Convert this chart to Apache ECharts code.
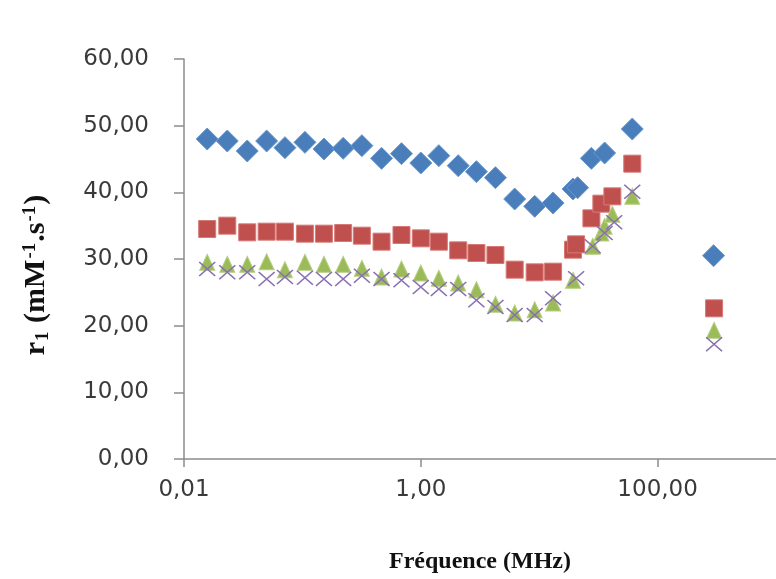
<!DOCTYPE html>
<html>
<head>
<meta charset="utf-8">
<script src="https://cdn.jsdelivr.net/npm/echarts@6/dist/echarts.min.js"></script>
<style>html,body{margin:0;padding:0;background:#fff;}#c{width:776px;height:579px;}</style>
</head>
<body>
<div id="c"></div>
<script>
// Frequencies (MHz) and r1 values (mM-1.s-1)
const freqBlue = [0.0157, 0.0232, 0.0342, 0.0499, 0.0712, 0.105, 0.152, 0.221, 0.318, 0.466, 0.687, 1.00, 1.42, 2.07, 2.95, 4.27, 6.21, 9.16, 13.1, 19.3, 21.1, 27.6, 35.7, 61.1, 297];
const valBlue  = [48.0, 47.7, 46.2, 47.7, 46.7, 47.5, 46.5, 46.6, 47.0, 45.1, 45.8, 44.4, 45.5, 44.0, 43.1, 42.2, 39.0, 37.9, 38.4, 40.5, 40.7, 45.1, 45.9, 49.5, 30.5];

const freqRed = [0.0157, 0.0232, 0.0342, 0.0499, 0.0712, 0.105, 0.152, 0.221, 0.318, 0.466, 0.687, 1.00, 1.42, 2.07, 2.95, 4.27, 6.21, 9.16, 13.1, 19.3, 20.5, 27.6, 33.5, 41.5, 61.1, 300];
const valRed  = [34.5, 35.0, 34.0, 34.1, 34.1, 33.8, 33.8, 33.9, 33.5, 32.6, 33.6, 33.1, 32.6, 31.3, 30.9, 30.6, 28.4, 28.0, 28.1, 31.4, 32.2, 36.1, 38.3, 39.4, 44.3, 22.6];

const freqGreen = [0.0157, 0.0232, 0.0342, 0.0499, 0.0712, 0.105, 0.152, 0.221, 0.318, 0.466, 0.687, 1.00, 1.42, 2.07, 2.95, 4.27, 6.21, 9.16, 13.1, 19.3, 28.3, 33.5, 35.7, 41.5, 61.1, 300];
const valGreen  = [29.5, 29.2, 29.2, 29.6, 28.4, 29.5, 29.2, 29.2, 28.6, 27.3, 28.5, 27.9, 27.1, 26.4, 25.4, 23.2, 21.9, 22.4, 23.4, 26.8, 31.9, 33.9, 34.9, 36.7, 39.4, 19.3];

const freqPurple = [0.0157, 0.0232, 0.0342, 0.0499, 0.0712, 0.105, 0.152, 0.221, 0.318, 0.466, 0.687, 1.00, 1.42, 2.07, 2.95, 4.27, 6.21, 9.16, 13.1, 20.5, 28.3, 35.7, 43.0, 61.1, 300];
const valPurple  = [28.5, 28.0, 28.0, 27.0, 27.3, 27.2, 27.0, 27.0, 27.5, 27.0, 26.8, 25.8, 25.5, 25.5, 23.8, 22.8, 21.6, 21.6, 24.1, 27.1, 31.9, 33.9, 35.5, 40.1, 17.2];

const yTicks = [0, 10, 20, 30, 40, 50, 60];
const xTicks = [0.01, 1, 100];

function pairs(xs, ys) { return xs.map((x, i) => [x, ys[i]]); }
function fr(v) { return Number(v).toFixed(2).replace('.', ','); }

const chart = echarts.init(document.getElementById('c'), null, {renderer: 'canvas'});
const axisCol = '#8c8c8c';
const labelFont = {color: '#3a3a3a', fontFamily: 'DejaVu Sans', fontSize: 23};

chart.setOption({
  backgroundColor: '#ffffff',
  animation: false,
  grid: {left: 184, right: 0, top: 59, bottom: 112, containLabel: false},
  xAxis: {
    type: 'log', logBase: 100, min: xTicks[0], max: 1000,
    name: 'Fréquence (MHz)', nameLocation: 'middle', nameGap: 91,
    nameTextStyle: {fontFamily: 'Liberation Serif', fontWeight: 'bold', fontSize: 24, color: '#111'},
    axisLine: {lineStyle: {color: axisCol, width: 1.5}},
    axisTick: {show: true, inside: false, length: 8, lineStyle: {color: axisCol, width: 1.5}},
    axisLabel: Object.assign({margin: 20, showMaxLabel: false, formatter: v => fr(v)}, labelFont),
    splitLine: {show: false}
  },
  yAxis: {
    type: 'value', min: yTicks[0], max: yTicks[yTicks.length - 1], interval: 10,
    axisLine: {show: true, lineStyle: {color: axisCol, width: 1.5}},
    axisTick: {show: true, inside: false, length: 10, lineStyle: {color: axisCol, width: 1.5}},
    axisLabel: Object.assign({margin: 35, formatter: v => fr(v)}, labelFont),
    splitLine: {show: false}
  },
  graphic: [{
    type: 'text', x: 36, y: 275, rotation: Math.PI / 2,
    style: {
      text: '{b|r}{s|1}{b| (mM}{p|-1}{b|.s}{p|-1}{b|)}',
      align: 'center', verticalAlign: 'middle',
      fill: '#111',
      rich: {
        b: {fontFamily: 'Liberation Serif', fontWeight: 'bold', fontSize: 30, fill: '#111', lineHeight: 36, verticalAlign: 'middle'},
        s: {fontFamily: 'Liberation Serif', fontWeight: 'bold', fontSize: 19, fill: '#111', lineHeight: 36, verticalAlign: 'bottom', padding: [0, 1, 1, 1]},
        p: {fontFamily: 'Liberation Serif', fontWeight: 'bold', fontSize: 19, fill: '#111', lineHeight: 36, verticalAlign: 'top', padding: [3, 1, 0, 1]}
      }
    }
  }],
  series: [
    {type: 'scatter', name: 'A', data: pairs(freqBlue, valBlue), symbol: 'diamond', symbolSize: 22,
     itemStyle: {color: '#4A7EBB', borderColor: '#6a98cf', borderWidth: 1, opacity: 1}},
    {type: 'scatter', name: 'B', data: pairs(freqRed, valRed), symbol: 'rect', symbolSize: 17,
     itemStyle: {color: '#C0504D', borderColor: '#d77976', borderWidth: 1, opacity: 1}},
    {type: 'scatter', name: 'C', data: pairs(freqGreen, valGreen), symbol: 'triangle', symbolSize: [15, 16],
     itemStyle: {color: '#9BBB59', borderColor: '#b5cf80', borderWidth: 1, opacity: 1}},
    {type: 'scatter', name: 'D', data: pairs(freqPurple, valPurple), symbol: 'path://M0,0L10,10M10,0L0,10', symbolSize: [16, 14],
     itemStyle: {color: 'rgba(0,0,0,0)', borderColor: '#8a70b0', borderWidth: 1.5, opacity: 1}}
  ]
});
</script>
</body>
</html>
